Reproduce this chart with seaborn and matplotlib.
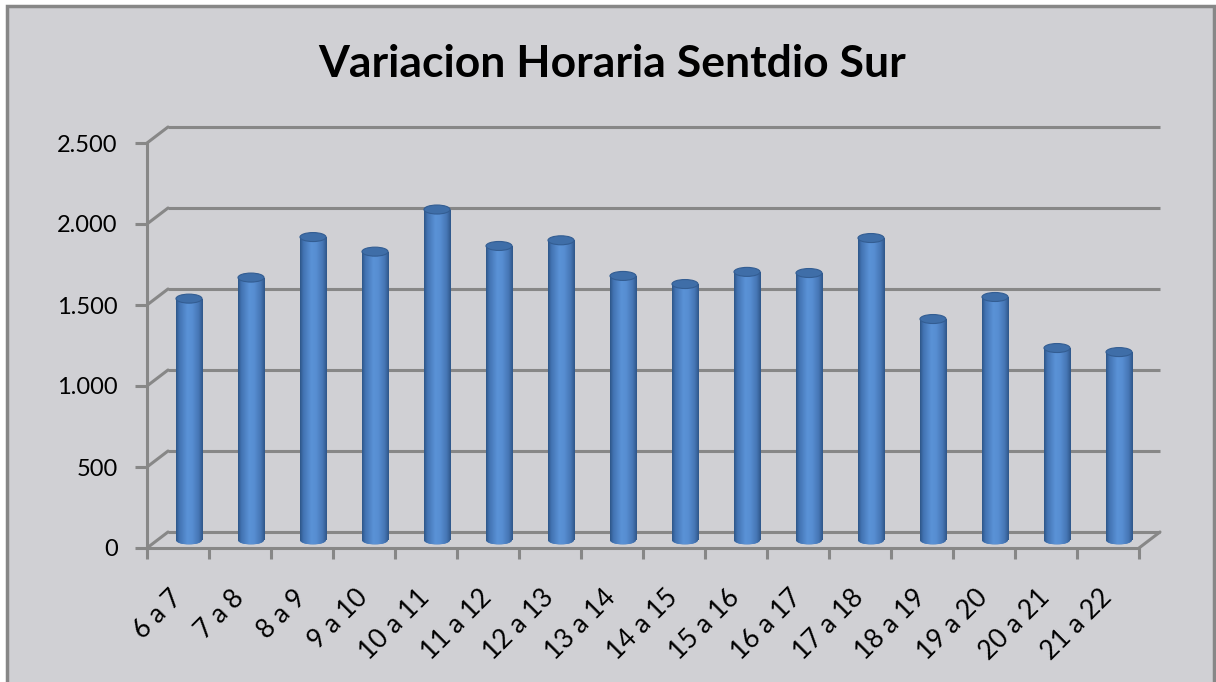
import numpy as np
import matplotlib
matplotlib.use("Agg")
import matplotlib.pyplot as plt
import seaborn as sns
import pandas as pd
from matplotlib.patches import Ellipse, Rectangle
from matplotlib.colors import LinearSegmentedColormap
from matplotlib.transforms import ScaledTranslation

# data
horas = ["6 a 7", "7 a 8", "8 a 9", "9 a 10", "10 a 11", "11 a 12", "12 a 13", "13 a 14",
         "14 a 15", "15 a 16", "16 a 17", "17 a 18", "18 a 19", "19 a 20", "20 a 21", "21 a 22"]
vehiculos = [1490, 1620, 1870, 1780, 2040, 1815, 1850, 1630,
             1580, 1655, 1648, 1864, 1364, 1500, 1185, 1160]
y_ticks = [0, 500, 1000, 1500, 2000, 2500]
y_labels = ["0", "500", "1.000", "1.500", "2.000", "2.500"]
titulo = "Variacion Horaria Sentdio Sur"

df = pd.DataFrame({"hora": horas, "vehiculos": vehiculos})

sns.set_style("white")
plt.rcParams["font.family"] = ["Lato", "DejaVu Sans"]

bg = "#D0D0D4"
grid_c = "#878787"
azul = "#4F84C6"

fig = plt.figure(figsize=(12.16, 6.82), dpi=100)
fig.patch.set_facecolor("white")
# chart area with border
fig.add_artist(Rectangle((7 / 1216, -0.02), 1207 / 1216, 1.02 - 6 / 682,
                         transform=fig.transFigure, facecolor=bg,
                         edgecolor=grid_c, lw=2.5, zorder=0))

ax = fig.add_axes([147 / 1216, 1 - 548 / 682, 992 / 1216, 405 / 682])
ax.set_facecolor("none")

sns.barplot(data=df, x="hora", y="vehiculos", color=azul, width=0.42,
            saturation=1, ax=ax, linewidth=0)

# pseudo 3D: depth offsets in pixels
mid = ax.transData + ScaledTranslation(11 / 100, 8 / 100, fig.dpi_scale_trans)
DX = 21 / (992 / 16)
DY = 16 / (405 / 2500)
EH = 9 / (405 / 2500)

# back wall grid lines and side diagonals
for v in y_ticks:
    ax.plot([-0.5 + DX, 15.5 + DX], [v + DY, v + DY], color=grid_c, lw=2.2,
            clip_on=False, zorder=0.5, solid_capstyle="butt")
    ax.plot([-0.5, -0.5 + DX], [v, v + DY], color=grid_c, lw=2.2,
            clip_on=False, zorder=0.5)
ax.plot([15.5, 15.5 + DX], [0, DY], color=grid_c, lw=2.2, clip_on=False, zorder=0.5)

# cylinder shading
cyl = LinearSegmentedColormap.from_list(
    "cyl", [(0, "#2E5789"), (0.12, "#4273B2"), (0.42, "#5A92D6"),
            (0.6, "#578ED2"), (0.85, "#4676B5"), (1, "#2F578A")])
grad = np.linspace(0, 1, 64).reshape(1, -1)

bars = list(ax.patches)
for p in bars:
    x0, w, h = p.get_x(), p.get_width(), p.get_height()
    p.set_transform(mid)
    p.set_zorder(2)
    im = ax.imshow(grad, extent=(x0, x0 + w, 0, h), aspect="auto", cmap=cyl,
                   transform=mid, zorder=2.1)
    im.set_clip_path(p)
    base = Ellipse((x0 + w / 2, 0), w, EH, transform=mid, facecolor=azul,
                   edgecolor="none", zorder=1.9)
    ax.add_patch(base)
    im2 = ax.imshow(grad, extent=(x0, x0 + w, -EH / 2, EH / 2), aspect="auto",
                    cmap=cyl, transform=mid, zorder=1.95)
    im2.set_clip_path(base)
    top = Ellipse((x0 + w / 2, h), w, EH, transform=mid, facecolor="#3F6EA8",
                  edgecolor="#335D92", lw=0.8, zorder=2.3)
    ax.add_patch(top)

ax.set_xlim(-0.5, 15.5)
ax.set_ylim(0, 2500)
sns.despine(ax=ax)
for s in ["left", "bottom"]:
    ax.spines[s].set_color(grid_c)
    ax.spines[s].set_linewidth(2.2)

ax.set_yticks(y_ticks, y_labels)
ax.tick_params(axis="y", left=True, length=9, width=2.2, color=grid_c, pad=12,
               labelsize=17, labelcolor="black")
ax.set_xticks(range(len(horas)))
ax.set_xticklabels(horas, rotation=45, ha="right", va="center", rotation_mode="anchor")
ax.set_xticks(np.arange(-0.5, len(horas), 1), minor=True)
ax.tick_params(axis="x", which="major", bottom=True, length=0, pad=33,
               labelsize=19, labelcolor="black")
ax.tick_params(axis="x", which="minor", bottom=True, length=8, width=2.2, color=grid_c)
ax.set_xlabel("")
ax.set_ylabel("")

fig.text(612 / 1216, 1 - 64 / 682, titulo, ha="center", va="center",
         fontsize=32, fontweight="bold", color="black")

fig.savefig("out.png", dpi=100)
